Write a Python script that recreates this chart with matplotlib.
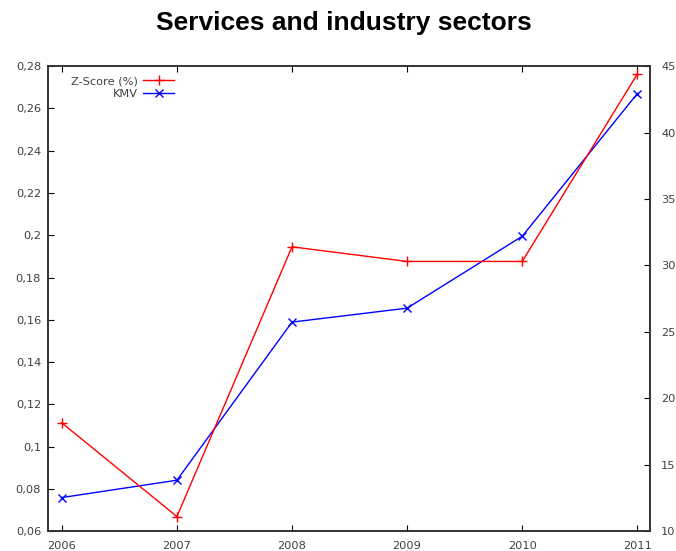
import numpy as np
import matplotlib.pyplot as plt

# Data
years = [2006, 2007, 2008, 2009, 2010, 2011]
zscore_pct = [18.15, 11.1, 31.4, 30.3, 30.3, 44.4]          # right axis
kmv = [0.0759, 0.0841, 0.1589, 0.1655, 0.1995, 0.267]        # left axis

left_ticks = [0.06, 0.08, 0.1, 0.12, 0.14, 0.16, 0.18, 0.2, 0.22, 0.24, 0.26, 0.28]
left_labels = ["0,06", "0,08", "0,1", "0,12", "0,14", "0,16", "0,18", "0,2",
               "0,22", "0,24", "0,26", "0,28"]
right_ticks = [10, 15, 20, 25, 30, 35, 40, 45]

plt.rcParams['font.family'] = ['DejaVu Sans']
tick_color = "#404040"
fs = 8.2

fig = plt.figure(figsize=(6.76, 5.51), dpi=100)
ax = fig.add_axes([0.071, 0.036, 0.8905, 0.844])
ax2 = ax.twinx()

l2, = ax2.plot(years, zscore_pct, color="#ff0000", lw=1.0, marker="+",
               ms=7, mew=1.0, label="Z-Score (%)")
l1, = ax.plot(years, kmv, color="#0000ff", lw=1.0, marker="x",
              ms=5.5, mew=1.0, label="KMV")

ax.set_xlim(2005.88, 2011.11)
ax.set_ylim(0.06, 0.28)
ax2.set_ylim(10, 45)

ax.set_xticks(years)
ax.set_xticklabels([str(y) for y in years])
ax.set_yticks(left_ticks)
ax.set_yticklabels(left_labels)
ax2.set_yticks(right_ticks)

ax.tick_params(axis="x", direction="in", top=True, length=4, labelsize=fs,
               labelcolor=tick_color, pad=7)
ax.tick_params(axis="y", direction="in", length=4, labelsize=fs,
               labelcolor=tick_color, pad=5)
ax2.tick_params(axis="y", direction="in", length=4, labelsize=fs,
                labelcolor=tick_color, pad=8)

for a in (ax, ax2):
    for s in a.spines.values():
        s.set_color("#333333")
        s.set_linewidth(1.2)

leg = ax.legend([l2, l1], ["Z-Score (%)", "KMV"], loc="upper left",
                bbox_to_anchor=(0.022, 1.0), frameon=False, markerfirst=False,
                fontsize=fs, handlelength=2.7, labelspacing=0.25,
                handletextpad=0.45)
for t in leg.get_texts():
    t.set_color(tick_color)

fig.text(0.508, 0.959, "Services and industry sectors", ha="center",
         va="center", fontsize=19, fontweight="bold", family="Liberation Sans")

fig.savefig("out.png", dpi=100)
